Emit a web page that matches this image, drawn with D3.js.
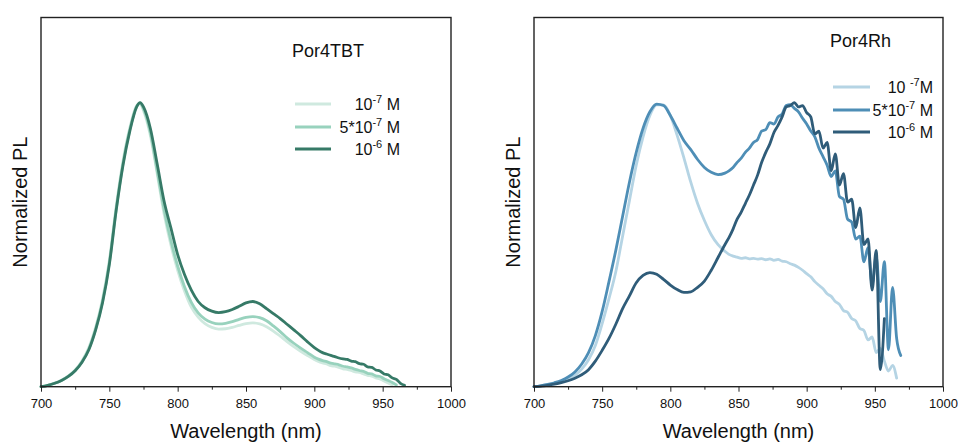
<!DOCTYPE html>
<html><head><meta charset="utf-8">
<script src="https://cdn.jsdelivr.net/npm/d3@7"></script>
<style>
html,body{margin:0;padding:0;background:#fff;}
svg{display:block;font-family:Arial,"Liberation Sans",sans-serif;}
</style></head>
<body>
<svg id="chart" width="958" height="442"></svg>
<script>
// ---------- data ----------
const xTicks = [700, 750, 800, 850, 900, 950, 1000];
const xMinorTicks = [725, 775, 825, 875, 925, 975];

const wlL = [700,705,710,715,720,725,730,735,740,745,750,755,760,765,770,772.5,775,780,785,790,795,800,805,810,815,820,825,830,835,840,845,850,855,860,865,870,875,880,885,890,895,900,903,906,909,912,915,918,921,924,927,930,933,936,939,942,945,948,951,954,957,960,963,966,969];
const tbt_1e7 = [0,0.005,0.013,0.023,0.038,0.059,0.091,0.138,0.21,0.308,0.445,0.635,0.795,0.912,0.99,0.997,0.972,0.885,0.75,0.61,0.5,0.41,0.337,0.28,0.245,0.222,0.209,0.203,0.204,0.209,0.216,0.222,0.225,0.221,0.211,0.196,0.178,0.159,0.141,0.125,0.11,0.096,0.089,0.084,0.08,0.074,0.072,0.068,0.063,0.061,0.057,0.052,0.05,0.045,0.04,0.037,0.031,0.027,0.02,0.013,0.006,null,null,null,null];
const tbt_5e7 = [0,0.005,0.012,0.022,0.036,0.057,0.088,0.133,0.204,0.3,0.436,0.625,0.785,0.905,0.987,0.998,0.978,0.895,0.76,0.625,0.515,0.425,0.352,0.297,0.26,0.238,0.226,0.221,0.223,0.229,0.237,0.244,0.247,0.243,0.232,0.214,0.194,0.172,0.153,0.136,0.12,0.104,0.097,0.092,0.088,0.083,0.08,0.077,0.072,0.07,0.066,0.061,0.057,0.054,0.047,0.045,0.038,0.036,0.028,0.022,0.015,0.006,null,null,null];
const tbt_1e6 = [0,0.005,0.012,0.022,0.036,0.056,0.086,0.13,0.2,0.295,0.43,0.62,0.78,0.9,0.985,1.0,0.985,0.91,0.785,0.655,0.56,0.465,0.395,0.34,0.3,0.278,0.266,0.261,0.264,0.272,0.283,0.295,0.3,0.292,0.275,0.257,0.24,0.22,0.2,0.18,0.158,0.138,0.128,0.12,0.115,0.11,0.106,0.101,0.098,0.096,0.09,0.088,0.081,0.079,0.07,0.068,0.059,0.055,0.045,0.042,0.031,0.026,0.012,0.005,null];

const wlR = [700,705,710,715,720,725,730,735,740,745,750,755,760,765,770,775,780,785,790,795,800,805,810,815,820,825,830,835,840,843,846,849,852,855,858,861,864,867,870,873,876,879,882,885,888,891,894,897,900,903,906,909,912,915,918,921,924,927,930,933,936,939,942,945,948,951,954,957,960,963,966,969];
const rh_1e7 = [0,0.003,0.007,0.012,0.018,0.027,0.04,0.062,0.095,0.145,0.222,0.31,0.405,0.53,0.655,0.78,0.88,0.955,0.992,0.992,0.955,0.885,0.805,0.72,0.645,0.585,0.535,0.5,0.477,0.466,0.46,0.456,0.452,0.454,0.45,0.452,0.449,0.451,0.447,0.45,0.445,0.448,0.442,0.44,0.433,0.428,0.42,0.41,0.398,0.387,0.37,0.357,0.345,0.327,0.318,0.3,0.29,0.268,0.262,0.24,0.232,0.205,0.198,0.165,0.175,0.12,0.135,0.09,0.055,0.075,0.03,null];
const rh_5e7 = [0,0.003,0.008,0.014,0.022,0.034,0.052,0.08,0.12,0.18,0.265,0.37,0.48,0.6,0.72,0.825,0.91,0.968,0.995,0.99,0.955,0.91,0.866,0.835,0.8,0.772,0.755,0.747,0.752,0.76,0.772,0.79,0.805,0.825,0.84,0.86,0.87,0.9,0.905,0.93,0.925,0.95,0.96,0.99,0.993,0.98,0.968,0.945,0.925,0.9,0.88,0.84,0.81,0.78,0.74,0.76,0.67,0.66,0.59,0.58,0.52,0.53,0.44,0.49,0.36,0.46,0.3,0.44,0.13,0.35,0.17,0.11];
const rh_1e6 = [0,0.002,0.005,0.009,0.014,0.021,0.03,0.042,0.06,0.09,0.128,0.17,0.22,0.275,0.32,0.366,0.392,0.402,0.396,0.378,0.358,0.342,0.332,0.334,0.35,0.372,0.41,0.455,0.5,0.525,0.555,0.59,0.615,0.645,0.675,0.71,0.745,0.79,0.825,0.855,0.895,0.92,0.95,0.985,0.99,1.0,0.985,0.99,0.965,0.95,0.89,0.9,0.84,0.86,0.76,0.82,0.71,0.75,0.65,0.66,0.56,0.63,0.5,0.52,0.34,0.48,0.06,0.24,null,null,null,null];

const panels = [
  { title: "Por4TBT", wl: wlL, x0: 41, x1: 451,
    titleX: 292, titleY: 57, legX0: 295, legX1: 331, legTextX: 400, legY: [104, 127, 149],
    series: [
      { name: "1e-7", values: tbt_1e7, color: "#cfe9df", label: [["10",0],["-7",1],[" M",0]] },
      { name: "5e-7", values: tbt_5e7, color: "#98d2bd", label: [["5*10",0],["-7",1],[" M",0]] },
      { name: "1e-6", values: tbt_1e6, color: "#367a67", label: [["10",0],["-6",1],[" M",0]] }
    ] },
  { title: "Por4Rh", wl: wlR, x0: 534, x1: 943,
    titleX: 830, titleY: 47, legX0: 833, legX1: 870, legTextX: 933, legY: [87, 110, 132],
    series: [
      { name: "1e-7", values: rh_1e7, color: "#b5d4e4", label: [["10 ",0],["-7",1],["M",0]] },
      { name: "5e-7", values: rh_5e7, color: "#4e8eb6", label: [["5*10",0],["-7",1],[" M",0]] },
      { name: "1e-6", values: rh_1e6, color: "#2f5c79", label: [["10",0],["-6",1],[" M",0]] }
    ] }
];

// ---------- drawing ----------
const svg = d3.select("#chart");
const yTop = 17.5, yBot = 386.7;

panels.forEach(p => {
  const x = d3.scaleLinear().domain([700, 1000]).range([p.x0, p.x1]);
  const y = d3.scaleLinear().domain([0, 1.3]).range([yBot, yTop]);
  const g = svg.append("g");

  const line = d3.line()
    .defined(d => d[1] != null)
    .x(d => x(d[0])).y(d => y(d[1]))
    .curve(d3.curveMonotoneX);

  p.series.forEach(s => {
    const pts = p.wl.map((w, i) => [w, s.values[i]]);
    g.append("path").attr("d", line(pts))
      .attr("fill", "none").attr("stroke", s.color)
      .attr("stroke-width", 2.8).attr("stroke-linejoin", "round").attr("stroke-linecap", "round");
  });

  // minor ticks
  g.append("g").attr("transform", `translate(0,${yBot})`)
    .call(d3.axisBottom(x).tickValues(xMinorTicks).tickSize(3).tickFormat(""))
    .call(a => a.select(".domain").remove())
    .call(a => a.selectAll("line").attr("stroke", "#222").attr("stroke-width", 1));
  // major ticks
  const ax = g.append("g").attr("transform", `translate(0,${yBot})`)
    .call(d3.axisBottom(x).tickValues(xTicks).tickSize(5).tickPadding(7).tickFormat(d3.format("d")));
  ax.select(".domain").remove();
  ax.selectAll("line").attr("stroke", "#222").attr("stroke-width", 1);
  ax.selectAll("text").attr("font-size", 13).attr("fill", "#111")
    .attr("font-family", "Arial, 'Liberation Sans', sans-serif");

  // frame
  g.append("rect").attr("x", p.x0).attr("y", yTop)
    .attr("width", p.x1 - p.x0).attr("height", yBot - yTop)
    .attr("fill", "none").attr("stroke", "#222").attr("stroke-width", 1.4);

  // axis titles
  g.append("text").attr("x", (p.x0 + p.x1) / 2).attr("y", 438)
    .attr("text-anchor", "middle").attr("font-size", 20).attr("fill", "#111")
    .text("Wavelength (nm)");
  g.append("text")
    .attr("transform", `translate(${p.x0 - 14},${(yTop + yBot) / 2}) rotate(-90)`)
    .attr("text-anchor", "middle").attr("font-size", 20).attr("fill", "#111")
    .text("Normalized PL");

  // legend title
  g.append("text").attr("x", p.titleX).attr("y", p.titleY)
    .attr("font-size", 18).attr("fill", "#111").text(p.title);

  // legend entries
  p.series.forEach((s, i) => {
    const ly = p.legY[i];
    g.append("line").attr("x1", p.legX0).attr("x2", p.legX1)
      .attr("y1", ly).attr("y2", ly)
      .attr("stroke", s.color).attr("stroke-width", 3);
    const t = g.append("text").attr("x", p.legTextX).attr("y", ly + 6)
      .attr("text-anchor", "end").attr("font-size", 16).attr("fill", "#111");
    let raised = false;
    s.label.forEach(([txt, sup]) => {
      const ts = t.append("tspan").text(txt);
      if (sup && !raised) { ts.attr("dy", -7).attr("font-size", 11); raised = true; }
      else if (!sup && raised) { ts.attr("dy", 7); raised = false; }
    });
  });
});
</script>
</body></html>
